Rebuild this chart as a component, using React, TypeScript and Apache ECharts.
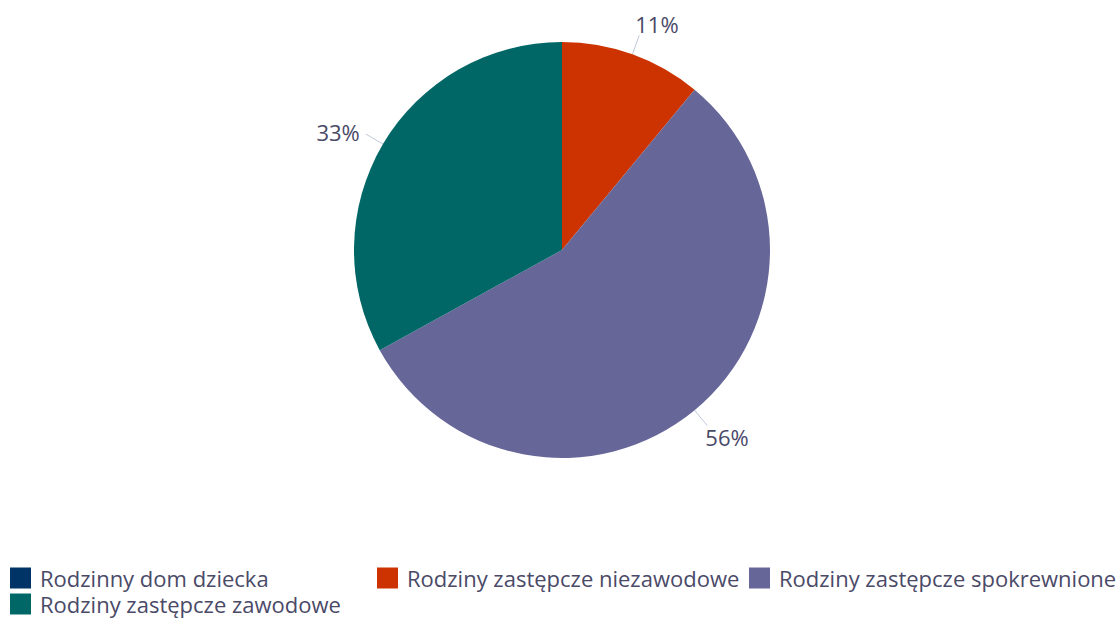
import React, { useEffect, useRef } from "react";
import * as echarts from "echarts";

const categories = [
  "Rodzinny dom dziecka",
  "Rodziny zastępcze niezawodowe",
  "Rodziny zastępcze spokrewnione",
  "Rodziny zastępcze zawodowe",
];
const values = [0, 11, 56, 33];
const colors = ["#003366", "#CC3300", "#666699", "#006666"];
const legendPos = [
  { left: 10, top: 567 },
  { left: 377, top: 567 },
  { left: 749, top: 567 },
  { left: 10, top: 593 },
];

const CX = 562;
const CY = 250;
const R = 208;

export default function App() {
  const ref = useRef<HTMLDivElement>(null);
  useEffect(() => {
    document.body.style.margin = "0";
    const chart = echarts.init(ref.current!, null, { renderer: "svg" });
    const font = "'Open Sans', 'Noto Sans', sans-serif";
    const total = values.reduce((a, b) => a + b, 0);
    const mids: number[] = [];
    let acc = 0;
    values.forEach((v) => {
      mids.push(((90 - ((acc + v / 2) / total) * 360) * Math.PI) / 180);
      acc += v;
    });
    chart.setOption({
      animation: false,
      color: colors,
      textStyle: { fontFamily: font },
      legend: categories.map((c, i) => ({
        data: [c],
        left: legendPos[i].left,
        top: legendPos[i].top,
        icon: "rect",
        itemWidth: 21,
        itemHeight: 21,
        padding: 0,
        selectedMode: false,
        textStyle: {
          fontFamily: font,
          fontSize: 22,
          lineHeight: 22,
          color: "#4a4a68",
          padding: [0, 0, 0, 4],
        },
      })),
      series: [
        {
          type: "pie",
          center: [CX, CY],
          radius: R,
          startAngle: 90,
          clockwise: true,
          avoidLabelOverlap: false,
          label: {
            show: true,
            position: "outside",
            formatter: "{d}%",
            fontFamily: font,
            fontSize: 22,
            color: "#4a4a68",
          },
          labelLine: {
            show: true,
            length: 18,
            length2: 0,
            lineStyle: { color: "#c0c8d8", width: 1 },
          },
          labelLayout: (p: any) => {
            const a = mids[p.dataIndex];
            const c = Math.cos(a);
            const s = Math.sin(a);
            const x1 = CX + R * c;
            const y1 = CY - R * s;
            const x2 = CX + (R + 20) * c;
            const y2 = CY - (R + 20) * s;
            const align = c > 0.3 ? "left" : c < -0.3 ? "right" : "center";
            const vAlign = s > 0.6 ? "bottom" : s < -0.6 ? "top" : "middle";
            let dx = 0;
            if (align === "right") dx = -6;
            else if (align === "left" && c < 0.5) dx = -4;
            else if (align === "left") dx = -2;
            return {
              x: x2 + dx,
              y: y2 + (vAlign === "middle" ? -2 : 0),
              align,
              verticalAlign: vAlign,
              labelLinePoints: [
                [x1, y1],
                [x2, y2],
                [x2, y2],
              ],
            };
          },
          data: categories.map((c, i) => ({
            name: c,
            value: values[i],
            label: values[i] === 0 ? { show: false } : undefined,
            labelLine: values[i] === 0 ? { show: false } : undefined,
          })),
        },
      ],
    });
    return () => chart.dispose();
  }, []);
  return (
    <div
      ref={ref}
      style={{ position: "absolute", left: 0, top: 0, width: 1116, height: 618 }}
    />
  );
}
